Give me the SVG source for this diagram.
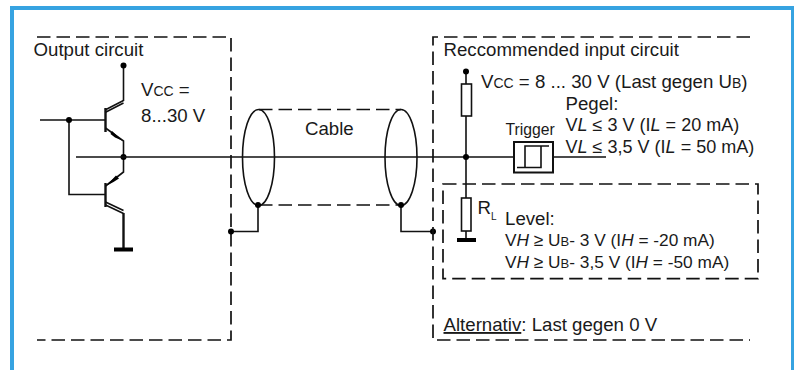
<svg xmlns="http://www.w3.org/2000/svg" width="794" height="370" viewBox="0 0 794 370">
<style>
text{font-family:"Liberation Sans",Arial,sans-serif;font-size:18.67px;fill:#1a1a1a}
.s{font-size:14px}
.i{font-style:italic}
.l{font-size:17.3px}
.p{font-size:18.05px}
.w{fill:none;stroke:#111;stroke-width:1.6}
.b{fill:none;stroke:#111;stroke-width:2}
.t{fill:none;stroke:#111;stroke-width:2.4}
.d{fill:none;stroke:#111;stroke-width:1.7;stroke-dasharray:13.5 6}
.g{fill:#000;stroke:none}
</style>
<rect width="794" height="370" fill="#fff"/>
<path d="M12 370V8H793V370" fill="none" stroke="#36a3e1" stroke-width="4"/>
<g id="output-circuit-box">
<path class="d" d="M37 37H231V340H37"/>
<text x="33.500" y="56">Output circuit</text>
<text x="141" y="95.500">V<tspan class="s">CC</tspan> =</text>
<text x="141" y="122">8...30 V</text>
</g>
<g id="transistors">
<path class="w" d="M123.500 66V101"/>
<path class="w" d="M105 110L123.500 100.500M105 112.500L123.500 103"/>
<path class="t" d="M105.500 108V132M105.500 183V207"/>
<path class="w" d="M105.500 128L123.500 141V172L105.500 186"/>
<path class="g" d="M122 140.500L112 131L110.500 134L115 137.500Z"/>
<path class="g" d="M106 186L116 175.500L119 178.500L113.500 182Z"/>
<path class="w" d="M105.500 202L123.500 210.500M105.500 205L123.500 213.500"/>
<path class="t" d="M123.500 213V250"/>
<rect class="g" x="114" y="247.500" width="19" height="4"/>
<path class="w" d="M40 120H105M69 120V194.500H105"/>
<circle class="g" cx="123.500" cy="65.500" r="3"/>
<circle class="g" cx="69" cy="120" r="3"/>
<circle class="g" cx="123.500" cy="157" r="3"/>
</g>
<g id="connectors">
<path class="w" d="M76 157H514M553 157H606"/>
<ellipse class="w" cx="258.500" cy="157.500" rx="16" ry="48"/>
<ellipse class="w" cx="401" cy="157.500" rx="16" ry="48"/>
<path class="d" d="M259 109.500H401M259 205H401"/>
<path class="w" d="M231 231.500H258V205M433 231.500H401V205"/>
<circle class="g" cx="258" cy="205" r="3"/>
<circle class="g" cx="231" cy="231.500" r="3"/>
<circle class="g" cx="401" cy="205" r="3"/>
<circle class="g" cx="433" cy="231.500" r="3"/>
<path class="w" d="M466 71V84M466 116V198M466 231V240"/>
<circle class="g" cx="466" cy="71.500" r="3"/>
<circle class="g" cx="466" cy="157" r="3"/>
</g>
<g id="input-circuit-box">
<path class="d" d="M750 37H433V340H750"/>
<text x="443.500" y="56">Reccommended input circuit</text>
<text x="481" y="88">V<tspan class="s">CC</tspan> = 8 ... 30 V (Last gegen U<tspan class="s">B</tspan>)</text>
<text x="565.500" y="110">Pegel:</text>
<text x="565.500" y="131" class="p">V<tspan class="i">L</tspan> ≤ 3 V (I<tspan class="i">L</tspan> = 20 mA)</text>
<text x="565.500" y="153" class="p">V<tspan class="i">L</tspan> ≤ 3,5 V (I<tspan class="i">L</tspan> = 50 mA)</text>
<text x="443.500" y="331"><tspan text-decoration="underline">Alternativ</tspan>: Last gegen 0 V</text>
</g>
<g id="pull-up-resistor"><rect class="w" x="461.500" y="84" width="10" height="32"/></g>
<g id="trigger">
<text x="505.500" y="135" style="font-size:15.75px">Trigger</text>
<rect class="b" x="514" y="142" width="39" height="30.500"/>
<path class="w" d="M517 167.500H541V146M525 167.500V146H549"/>
</g>
<g id="level-box">
<path class="d" d="M443 184H758V278.700H443Z"/>
<rect class="w" x="461.500" y="198" width="9.500" height="33"/>
<rect class="g" x="457" y="238" width="19" height="4"/>
<text x="477.500" y="214">R<tspan dy="6" style="font-size:10px">L</tspan></text>
<text x="505" y="225">Level:</text>
<text x="505" y="246" class="l">V<tspan class="i">H</tspan> ≥ U<tspan style="font-size:13px">B</tspan>- 3 V (I<tspan class="i">H</tspan> = -20 mA)</text>
<text x="505" y="268" class="l">V<tspan class="i">H</tspan> ≥ U<tspan style="font-size:13px">B</tspan>- 3,5 V (I<tspan class="i">H</tspan> = -50 mA)</text>
</g>
<g id="cable-label"><text x="305" y="135">Cable</text></g>
</svg>
